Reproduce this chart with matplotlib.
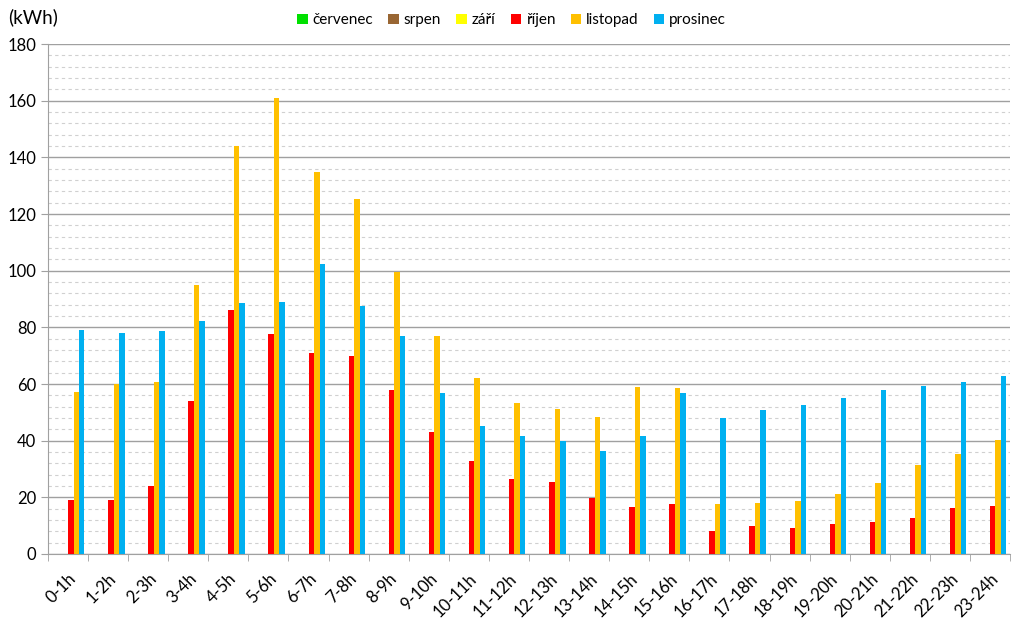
import numpy as np
import matplotlib
matplotlib.use("Agg")
import matplotlib.pyplot as plt
from matplotlib.ticker import MultipleLocator

plt.rcParams['font.family'] = ['Lato', 'DejaVu Sans']

hodiny = ['0-1h', '1-2h', '2-3h', '3-4h', '4-5h', '5-6h', '6-7h', '7-8h', '8-9h',
          '9-10h', '10-11h', '11-12h', '12-13h', '13-14h', '14-15h', '15-16h',
          '16-17h', '17-18h', '18-19h', '19-20h', '20-21h', '21-22h', '22-23h', '23-24h']

cervenec = [0] * 24
srpen = [0] * 24
zari = [0] * 24
rijen = [19, 19, 24, 54, 86, 77.5, 71, 70, 58, 43, 33, 26.6, 25.5, 19.6,
         16.5, 17.7, 8.1, 9.8, 9, 10.7, 11.4, 12.6, 16.2, 17]
listopad = [57.2, 60, 60.8, 95, 144, 161, 135, 125.3, 99.5, 77, 62, 53.3, 51.3, 48.5,
            59, 58.6, 17.6, 18, 18.7, 21.3, 25.2, 31.5, 35.3, 40.2]
prosinec = [79, 78, 78.7, 82.3, 88.6, 89, 102.4, 87.5, 77, 57, 45.2, 41.5, 40, 36.4,
            41.6, 56.9, 48, 51, 52.7, 55.2, 57.8, 59.4, 60.8, 62.8]

serie = [('červenec', cervenec, '#00E000'),
         ('srpen', srpen, '#996633'),
         ('září', zari, '#FFFF00'),
         ('říjen', rijen, '#FF0000'),
         ('listopad', listopad, '#FFC000'),
         ('prosinec', prosinec, '#00B0F0')]

fig = plt.figure(figsize=(10.23, 6.21), dpi=100)
ax = fig.add_axes([0.0469, 0.1079, 0.9404, 0.8212])

x = np.arange(len(hodiny))
w = 0.137
for i, (nazev, hodnoty, barva) in enumerate(serie):
    ax.bar(x + (i - 2.5) * w, hodnoty, width=w, color=barva, label=nazev, zorder=3)

ax.set_xlim(-0.5, len(hodiny) - 0.5)
ax.set_ylim(0, 180)
ax.yaxis.set_major_locator(MultipleLocator(20))
ax.yaxis.set_minor_locator(MultipleLocator(4))
ax.grid(which='major', axis='y', color='#A0A0A0', lw=1.0, zorder=0)
ax.grid(which='minor', axis='y', color='#D0D0D0', lw=0.8, ls=(0, (3, 3)), zorder=0)

ax.set_xticks(x)
ax.set_xticklabels(hodiny, rotation=45, ha='right', rotation_mode='anchor', fontsize=12)
ax.set_xticks(np.arange(-0.5, len(hodiny)), minor=True)
ax.tick_params(axis='x', which='major', length=0, pad=12)
ax.tick_params(axis='x', which='minor', length=5, color='#A0A0A0')
ax.tick_params(axis='y', which='major', length=5, color='#A0A0A0', labelsize=12)
ax.tick_params(axis='y', which='minor', length=0)

for s in ['top', 'right']:
    ax.spines[s].set_visible(False)
for s in ['left', 'bottom']:
    ax.spines[s].set_color('#A0A0A0')

fig.text(0.008, 0.972, '(kWh)', fontsize=13.5, va='center', ha='left')

ax.legend(loc='center', bbox_to_anchor=(0.5, 0.967), bbox_transform=fig.transFigure,
          ncol=6, frameon=False, fontsize=11, handlelength=0.7, handleheight=0.7,
          handletextpad=0.3, columnspacing=1.0)

fig.savefig('out.png', dpi=100)
